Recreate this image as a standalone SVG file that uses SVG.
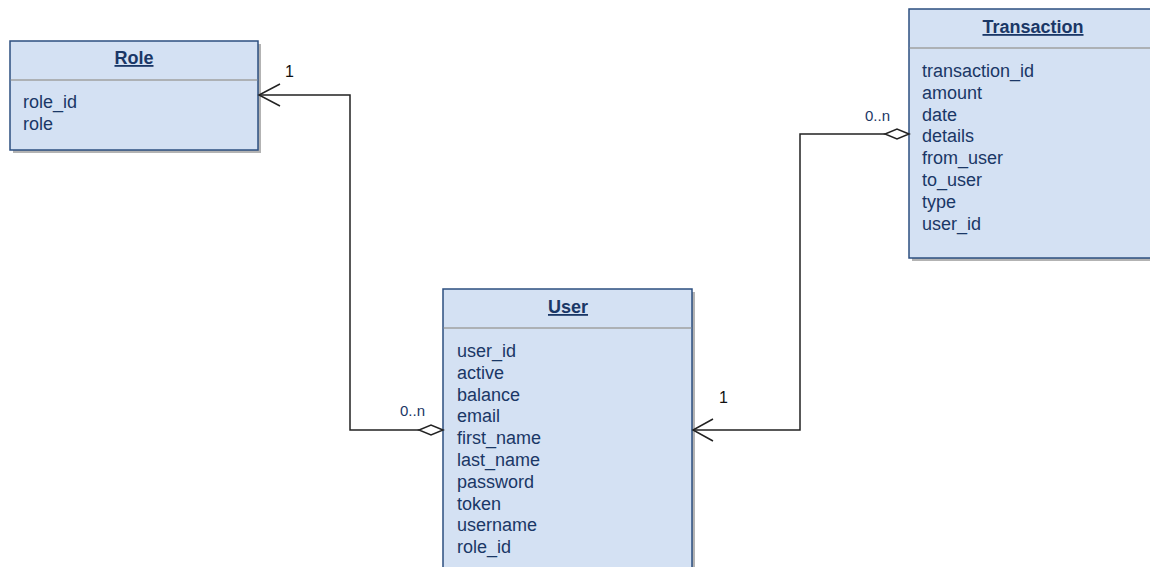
<svg xmlns="http://www.w3.org/2000/svg" width="1150" height="567" viewBox="0 0 1150 567">
<style>
.box{fill:#d4e1f3;stroke:#2c4f80;stroke-width:1.5}
.shadow{fill:#b3b3b3}
.sep{stroke:#a0a0a0;stroke-width:1.5}
.title{font-family:"Liberation Sans",Arial,sans-serif;font-size:18px;font-weight:bold;fill:#1a3766;text-anchor:middle;text-decoration:underline}
.field{font-family:"Liberation Sans",Arial,sans-serif;font-size:18px;fill:#1a3766}
.mult{font-family:"Liberation Sans",Arial,sans-serif;font-size:15px;fill:#1a3766}
.one{font-family:"Liberation Sans",Arial,sans-serif;font-size:16px;fill:#111}
.line{fill:none;stroke:#222;stroke-width:1.5}
.dia{fill:#fff;stroke:#222;stroke-width:1.5}
</style>
<rect width="1150" height="567" fill="#fff"/>
<g id="role">
<rect class="shadow" x="13" y="44" width="248" height="109"/>
<rect class="box" x="10" y="41" width="248" height="109"/>
<line class="sep" x1="10.75" y1="80" x2="257.25" y2="80"/>
<text class="title" x="134" y="64">Role</text>
<text class="field" x="23" y="108">role_id</text>
<text class="field" x="23" y="130">role</text>
</g>
<g id="transaction">
<rect class="shadow" x="912" y="12" width="260" height="249"/>
<rect class="box" x="909" y="9" width="260" height="249"/>
<line class="sep" x1="909.75" y1="48" x2="1150" y2="48"/>
<text class="title" x="1033" y="33">Transaction</text>
<text class="field" x="922" y="77">transaction_id</text>
<text class="field" x="922" y="98.8">amount</text>
<text class="field" x="922" y="120.6">date</text>
<text class="field" x="922" y="142.4">details</text>
<text class="field" x="922" y="164.2">from_user</text>
<text class="field" x="922" y="186">to_user</text>
<text class="field" x="922" y="207.8">type</text>
<text class="field" x="922" y="229.6">user_id</text>
</g>
<g id="user">
<rect class="shadow" x="446" y="292" width="249" height="290"/>
<rect class="box" x="443" y="289" width="249" height="290"/>
<line class="sep" x1="443.75" y1="328" x2="691.25" y2="328"/>
<text class="title" x="568" y="313">User</text>
<text class="field" x="457" y="357">user_id</text>
<text class="field" x="457" y="378.8">active</text>
<text class="field" x="457" y="400.6">balance</text>
<text class="field" x="457" y="422.4">email</text>
<text class="field" x="457" y="444.2">first_name</text>
<text class="field" x="457" y="466">last_name</text>
<text class="field" x="457" y="487.8">password</text>
<text class="field" x="457" y="509.6">token</text>
<text class="field" x="457" y="531.4">username</text>
<text class="field" x="457" y="553.2">role_id</text>
</g>
<g id="connectors">
<path class="line" d="M419 430 H350 V95 H259"/>
<path class="line" d="M280 84 L259 95 L280 106"/>
<path class="dia" d="M443 430 L431 425 L419 430 L431 435 Z"/>
<text class="one" x="285" y="77">1</text>
<text class="mult" x="400" y="416">0..n</text>
<path class="line" d="M885 134 H800 V430 H693"/>
<path class="line" d="M713 419 L693 430 L713 441"/>
<path class="dia" d="M909 134 L897 129 L885 134 L897 139 Z"/>
<text class="mult" x="865" y="121">0..n</text>
<text class="one" x="719" y="403">1</text>
</g>
</svg>
